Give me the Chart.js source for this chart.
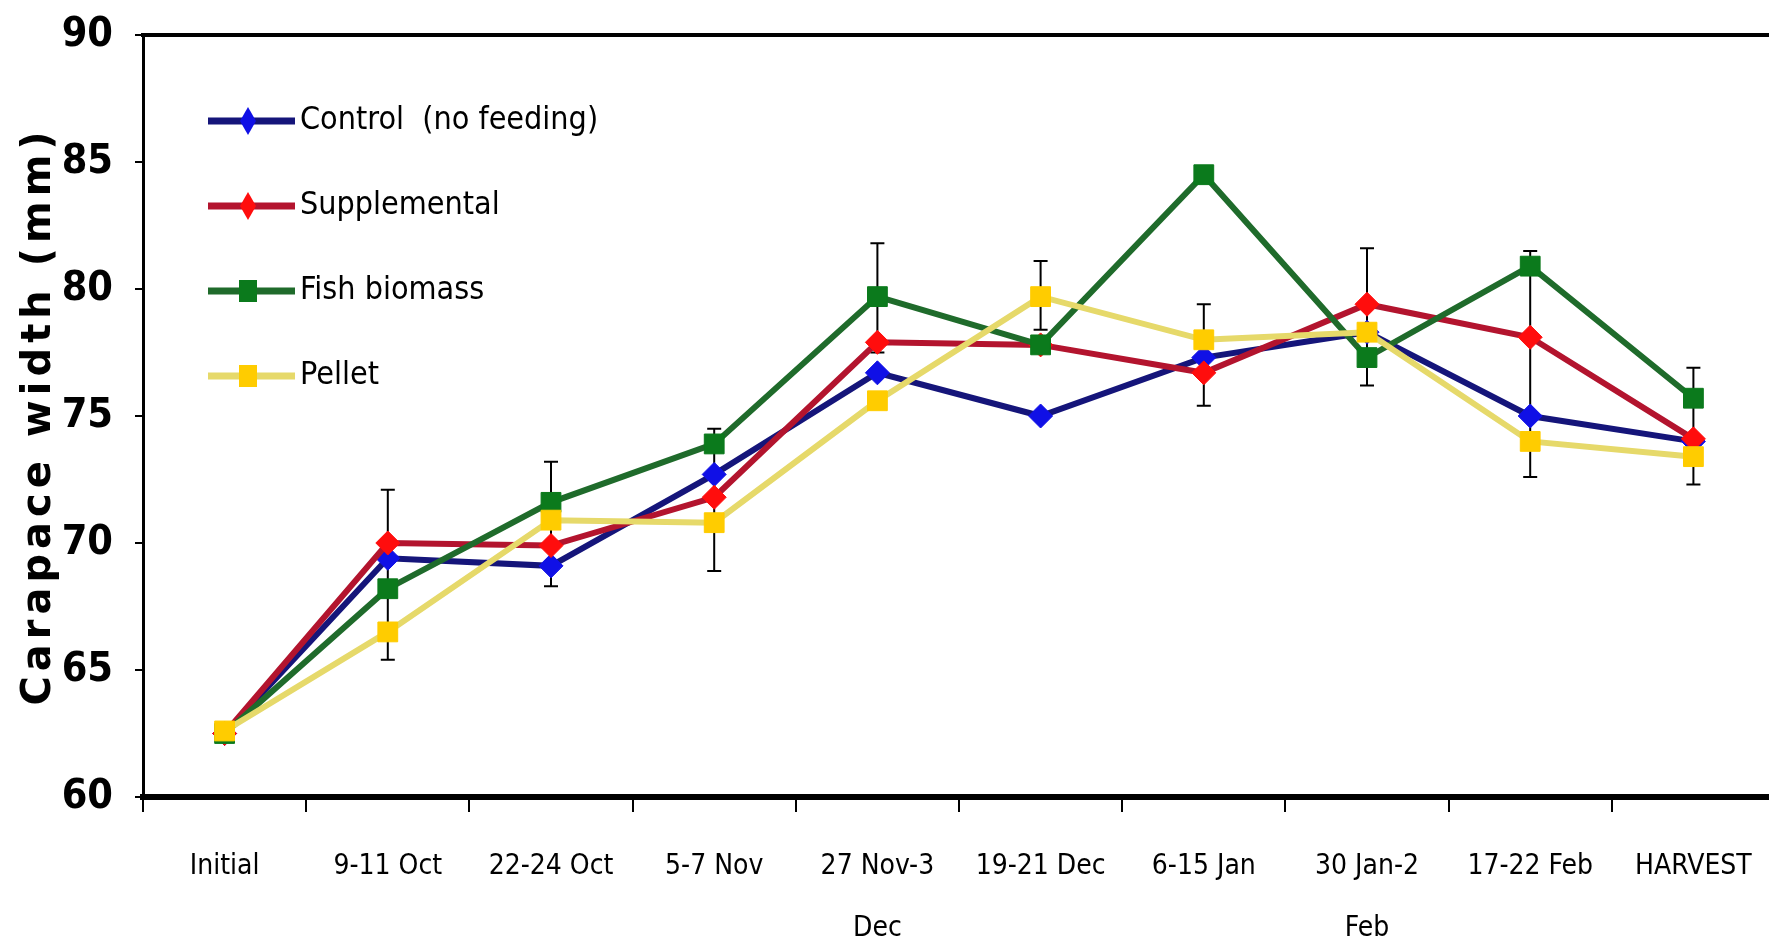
<!DOCTYPE html>
<html>
<head>
<meta charset="utf-8">
<script src="https://cdn.jsdelivr.net/npm/chart.js@4.4.1/dist/chart.umd.min.js"></script>
<style>
  html, body { margin: 0; padding: 0; background: #fff; overflow: hidden; }
  #wrap { position: relative; width: 1790px; height: 946px; }
</style>
</head>
<body>
<div id="wrap"><canvas id="c"></canvas></div>
<script>
// ---- data ----
const categories = ['Initial', '9-11 Oct', '22-24 Oct', '5-7 Nov', ['27 Nov-3', 'Dec'], '19-21 Dec', '6-15 Jan', ['30 Jan-2', 'Feb'], '17-22 Feb', 'HARVEST'];
const seriesNames = ['Control  (no feeding)', 'Supplemental', 'Fish biomass', 'Pellet'];
const control      = [62.5, 69.4, 69.1, 72.7, 76.7, 75.0, 77.3, 78.3, 75.0, 74.0];
const supplemental = [62.5, 70.0, 69.9, 71.8, 77.9, 77.8, 76.7, 79.4, 78.1, 74.1];
const fishBiomass  = [62.5, 68.2, 71.6, 73.9, 79.7, 77.8, 84.5, 77.3, 80.9, 75.7];
const pellet       = [62.6, 66.5, 70.9, 70.8, 75.6, 79.7, 78.0, 78.3, 74.0, 73.4];
const errLow  = [null, 65.4, 68.3, 68.9, 77.5, 78.4, 75.4, 76.2, 72.6, 72.3];
const errHigh = [null, 72.1, 73.2, 74.5, 81.8, 81.1, 79.4, 81.6, 81.5, 76.9];
const yMin = 60, yMax = 90, yStep = 5;
const yTitle = 'Carapace width (mm)';

// ---- styles ----
const NARROW = "'DejaVu Sans Condensed', 'Liberation Sans Narrow', sans-serif";
const lineColors   = ['#15157a', '#b3142e', '#1f6b2b', '#e6d96a'];
const markerColors = ['#1010e6', '#ff0d0d', '#0b7a1c', '#ffcc00'];
const markerStyles = ['rectRot', 'rectRot', 'rect', 'rect'];
const markerRadius = [12, 12, 14, 14];
const drawOrder    = [4, 3, 2, 1];

function legendImage(i) {
  const cv = document.createElement('canvas');
  cv.width = 110; cv.height = 40;
  const g = cv.getContext('2d');
  g.strokeStyle = lineColors[i];
  g.lineWidth = 7;
  g.beginPath(); g.moveTo(23, 20); g.lineTo(110, 20); g.stroke();
  g.fillStyle = markerColors[i];
  const cx = 63, cy = 20;
  if (markerStyles[i] === 'rectRot') {
    g.beginPath(); g.moveTo(cx, cy - 14); g.lineTo(cx + 8, cy); g.lineTo(cx, cy + 14); g.lineTo(cx - 8, cy); g.closePath(); g.fill();
  } else {
    g.fillRect(cx - 9, cy - 11, 18, 22);
  }
  return cv;
}
const legendImgs = [0, 1, 2, 3].map(legendImage);

const errorBars = {
  id: 'errorBars',
  beforeDatasetsDraw(chart) {
    const {ctx, scales: {x, y}} = chart;
    ctx.save();
    ctx.strokeStyle = '#000';
    ctx.lineWidth = 2;
    for (let i = 0; i < categories.length; i++) {
      if (errLow[i] == null) continue;
      const px = x.getPixelForValue(i);
      const yl = y.getPixelForValue(errLow[i]);
      const yh = y.getPixelForValue(errHigh[i]);
      ctx.beginPath();
      ctx.moveTo(px, yl); ctx.lineTo(px, yh);
      ctx.moveTo(px - 7, yl); ctx.lineTo(px + 7, yl);
      ctx.moveTo(px - 7, yh); ctx.lineTo(px + 7, yh);
      ctx.stroke();
    }
    ctx.restore();
  }
};

// spaced-out axis title (letter spacing applied to the library's own title drawing)
const titleSpacing = {
  id: 'titleSpacing',
  beforeDraw(chart) {
    const s = chart.scales.y;
    if (s && !s._spaced) {
      const orig = s.drawTitle;
      s.drawTitle = function () {
        const c = this.ctx;
        c.save();
        c.letterSpacing = '5px';
        orig.call(this);
        c.restore();
      };
      s._spaced = true;
    }
  }
};

const allSeries = [control, supplemental, fishBiomass, pellet];
const datasets = allSeries.map((d, i) => ({
  label: seriesNames[i],
  data: d,
  borderColor: lineColors[i],
  backgroundColor: markerColors[i],
  borderWidth: 6,
  pointStyle: markerStyles[i],
  pointRadius: markerRadius[i],
  pointBackgroundColor: markerColors[i],
  pointBorderColor: markerColors[i],
  pointBorderWidth: 1,
  tension: 0,
  order: drawOrder[i]
}));

new Chart(document.getElementById('c'), {
  type: 'line',
  data: { labels: categories, datasets },
  plugins: [errorBars, titleSpacing],
  options: {
    responsive: true,
    maintainAspectRatio: false,
    animation: false,
    layout: { padding: { top: 0, left: 0, right: 7, bottom: 0 } },
    plugins: {
      tooltip: { enabled: false },
      legend: {
        position: 'chartArea',
        align: 'start',
        title: { display: true, text: ' ', font: { size: 8, lineHeight: 1 }, padding: 22 },
        labels: {
          usePointStyle: true,
          pointStyleWidth: 88,
          padding: 53,
          color: '#000',
          font: { family: NARROW, size: 32 },
          sort: (a, b) => a.datasetIndex - b.datasetIndex,
          generateLabels(chart) {
            const items = Chart.defaults.plugins.legend.labels.generateLabels(chart);
            items.forEach(it => { it.pointStyle = legendImgs[it.datasetIndex]; });
            return items;
          }
        }
      }
    },
    scales: {
      x: {
        type: 'category',
        offset: true,
        afterFit(scale) { scale.height = 149; },
        grid: { offset: true, drawOnChartArea: false, drawTicks: true, tickLength: 15, color: '#000', lineWidth: 2 },
        border: { display: true, color: '#000', width: 6 },
        ticks: { color: '#000', padding: 24, maxRotation: 0, autoSkip: false, font: { family: NARROW, size: 28, lineHeight: 2.2 } }
      },
      x2: {
        type: 'category',
        position: 'top',
        offset: true,
        afterFit(scale) { scale.height = 35; },
        grid: { display: false, drawTicks: false },
        border: { display: true, color: '#000', width: 4 },
        ticks: { display: false }
      },
      y: {
        min: yMin, max: yMax,
        afterFit(scale) { scale.width = 143; scale.paddingTop = 0; scale.paddingBottom = 0; },
        grid: { drawOnChartArea: false, drawTicks: true, tickLength: 8, color: '#000', lineWidth: 2 },
        border: { display: true, color: '#000', width: 3 },
        ticks: { stepSize: yStep, color: '#000', padding: 22, font: { family: NARROW, size: 41, weight: 'bold' } },
        title: { display: true, text: yTitle, color: '#000', padding: { top: 16, bottom: 0 }, font: { family: "'DejaVu Sans', sans-serif", size: 40, weight: 'bold', lineHeight: 1.2 } }
      }
    }
  }
});
</script>
</body>
</html>
